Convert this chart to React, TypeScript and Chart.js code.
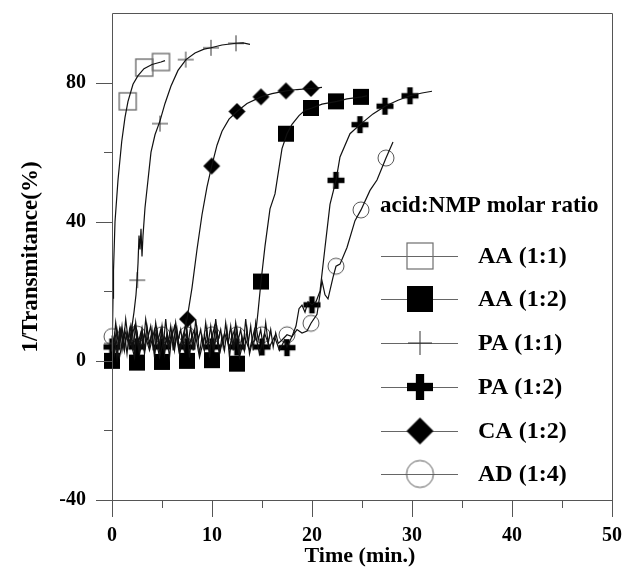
import { useEffect, useRef } from "react";
import { Chart, registerables } from "chart.js";

Chart.register(...registerables);

type P = [number, number];

// ---- data (time in min, 1/Transmitance %) ----
const AA11_LINE: P[] = [
  [0, 4], [0.05, 9], [0.1, 18], [0.15, 26], [0.3, 40], [0.6, 52], [0.97, 63], [1.3, 70],
  [1.6, 74.6], [2.1, 79.5], [2.6, 82], [3.2, 84], [4, 85.2], [4.9, 85.9], [5.3, 86.3],
];
const AA11_MARK: P[] = [[1.57, 74.6], [3.23, 84.3], [4.9, 85.9]];

const AA12_LINE: P[] = [
  [0, 2], [0.25, 7], [0.5, 1], [0.75, 9], [1, 3], [1.25, 8], [1.5, 2], [1.75, 9], [2, 4],
  [2.25, 1], [2.5, 8], [2.75, 3], [3, 9], [3.25, 2], [3.5, 7], [3.75, 4], [4, 9], [4.25, 1],
  [4.5, 8], [4.75, 3], [5, 9], [5.25, 2], [5.5, 7], [5.75, 1], [6, 8], [6.25, 4], [6.5, 9],
  [6.75, 2], [7, 7], [7.25, 3], [7.5, 9], [7.75, 1], [8, 8], [8.25, 4], [8.5, 9], [8.75, 2],
  [9, 7], [9.25, 3], [9.5, 9], [9.75, 1], [10, 8], [10.25, 4], [10.5, 9], [10.75, 2], [11, 7],
  [11.25, 3], [11.5, 9], [11.75, 1], [12, 8], [12.25, 4], [12.5, 9], [12.75, 2], [13, 7],
  [13.25, 3], [13.5, 9], [13.75, 2], [14, 5],
  [14.3, 6], [14.6, 14], [14.9, 22.8], [15.3, 33], [15.8, 43.7], [16.3, 48], [17, 61],
  [17.5, 65.3], [18, 68], [18.7, 70.5], [19.3, 72], [20, 72.7], [21, 73.8], [22.5, 74.6],
  [23.5, 75.3], [25, 75.9], [25.5, 76.2],
];
const AA12_MARK: P[] = [
  [0, 0], [2.5, -0.5], [5, -0.3], [7.5, 0], [10, 0.2], [12.5, -0.8], [14.9, 22.8],
  [17.4, 65.3], [19.9, 72.7], [22.4, 74.6], [24.9, 75.9],
];

const PA11_LINE: P[] = [
  [0, 4], [0.3, 8], [0.6, 3], [0.9, 9], [1.2, 4], [1.5, 8], [1.8, 5], [2.0, 10], [2.2, 14],
  [2.4, 19], [2.5, 23], [2.6, 28], [2.7, 36], [2.8, 32], [2.9, 38], [3.0, 30], [3.1, 36],
  [3.3, 44], [3.6, 52], [3.9, 60], [4.3, 65], [4.8, 69], [5.3, 74], [5.9, 79], [6.6, 83.5],
  [7.4, 86.6], [8.3, 88.5], [9.2, 89.6], [9.9, 90], [11, 90.8], [12.4, 91.3], [13.1, 91.4],
  [13.8, 91],
];
const PA11_MARK: P[] = [[0, 5], [2.53, 23.2], [4.8, 68.2], [7.37, 86.6], [9.9, 90], [12.4, 91.3]];

const PA12_LINE: P[] = [
  [0, 4], [0.25, 5], [0.75, 1], [1.25, 9], [1.75, 4], [2.25, 10], [2.75, 2], [3.25, 8],
  [3.75, 3], [4.25, 9], [4.75, 1], [5.25, 7], [5.75, 4], [6.25, 10], [6.75, 2], [7.25, 8],
  [7.75, 5], [8.25, 9], [8.75, 1], [9.25, 7], [9.75, 3], [10.25, 10], [10.75, 2], [11.25, 8],
  [11.75, 4], [12.25, 9], [12.75, 1], [13.25, 7], [13.75, 3], [14.25, 9], [14.75, 2],
  [15.25, 8], [15.75, 4], [16.25, 7], [16.75, 3], [17.25, 6], [17.5, 4], [18, 7], [18.4, 10],
  [18.7, 15], [19, 16], [19.3, 14], [19.6, 17], [20, 16.1], [20.4, 17], [20.8, 20],
  [21.3, 32.6], [21.8, 45], [22.4, 51.9], [22.8, 58.6], [23.8, 65.3], [24.8, 67.9],
  [26.1, 71], [27.3, 73.2], [28.6, 74.9], [29.8, 76.2], [31, 77], [32, 77.5],
];
const PA12_MARK: P[] = [
  [0, 4], [2.5, 4], [5, 4], [7.5, 4], [10, 4], [12.5, 4], [15, 4], [17.5, 3.8], [20, 16.1],
  [22.4, 51.9], [24.8, 67.9], [27.3, 73.2], [29.8, 76.2],
];

const CA12_LINE: P[] = [
  [0, 6], [0.25, 2], [0.5, 9], [0.75, 4], [1, 10], [1.25, 3], [1.5, 8], [1.75, 5], [2, 10],
  [2.25, 2], [2.5, 8], [2.75, 4], [3, 9], [3.25, 3], [3.5, 10], [3.75, 5], [4, 8], [4.25, 2],
  [4.5, 9], [4.75, 4], [5, 10], [5.25, 3], [5.5, 8], [5.75, 5], [6, 9], [6.25, 3], [6.5, 8],
  [6.75, 4], [7, 6], [7.5, 12], [8, 21], [8.5, 32], [9, 42],
  [9.5, 50], [9.97, 56], [10.5, 62], [11, 66], [11.7, 69.5], [12.5, 71.7], [13.5, 74],
  [14.9, 75.9], [16, 76.8], [17.4, 77.6], [18.5, 78], [19.9, 78.3], [21, 78.6],
];
const CA12_MARK: P[] = [[7.55, 12], [9.97, 56], [12.5, 71.7], [14.9, 75.9], [17.4, 77.6], [19.9, 78.3]];

const AD14_LINE: P[] = [
  [0, 7], [0.12, 3], [0.37, 11], [0.62, 5], [0.87, 9], [1.12, 4], [1.37, 12], [1.62, 6],
  [1.87, 10], [2.12, 3], [2.37, 11], [2.62, 5], [2.87, 8], [3.12, 4], [3.37, 12], [3.62, 7],
  [3.87, 10], [4.12, 3], [4.37, 11], [4.62, 6], [4.87, 9], [5.12, 4], [5.37, 12], [5.62, 5],
  [5.87, 10], [6.12, 3], [6.37, 11], [6.62, 6], [6.87, 9], [7.12, 4], [7.37, 11], [7.62, 5],
  [7.87, 10], [8.12, 3], [8.37, 12], [8.62, 6], [8.87, 9], [9.12, 4], [9.37, 11], [9.62, 5],
  [9.87, 10], [10.12, 3], [10.37, 12], [10.62, 6], [10.87, 9], [11.12, 4], [11.37, 11],
  [11.62, 5], [11.87, 10], [12.12, 3], [12.37, 11], [12.62, 6], [12.87, 9], [13.12, 4],
  [13.37, 12], [13.62, 5], [13.87, 10], [14.12, 3], [14.37, 11], [14.62, 6], [14.87, 9],
  [15.12, 4], [15.37, 11], [15.62, 5], [15.87, 9], [16.12, 4], [16.37, 8], [16.62, 5],
  [17, 6], [17.5, 7.5], [18, 7], [18.5, 9], [19, 8], [19.5, 8.6], [19.9, 10.8], [20.5, 13.4],
  [21, 23], [21.3, 19], [21.6, 17.8], [22.1, 24], [22.4, 27.2], [22.8, 27.8], [23.5, 32.6],
  [24.3, 40.3], [24.9, 43.4], [25.8, 49], [26.5, 52], [27.4, 58.3], [28.1, 62.9],
];
const AD14_MARK: P[] = [
  [0, 7], [2.5, 7.7], [5, 7.5], [7.5, 7.5], [10, 7.5], [12.5, 7.5], [15, 7.5], [17.5, 7.5],
  [19.9, 10.8], [22.4, 27.2], [24.9, 43.4], [27.4, 58.3],
];

const SERIES_LABELS = ["AA (1:1)", "AA (1:2)", "PA (1:1)", "PA (1:2)", "CA (1:2)", "AD (1:4)"];
const SERIES_MARKERS = ["openSquare", "square", "thinCross", "boldCross", "diamond", "openCircle"];
const LEGEND_TITLE = "acid:NMP molar ratio";
const X_TITLE = "Time (min.)";
const Y_TITLE = "1/Transmitance(%)";
const X_MAJOR = [0, 10, 20, 30, 40, 50];
const X_MINOR = [5, 15, 25, 35, 45];
const Y_MAJOR = [-40, 0, 40, 80];
const Y_MINOR = [-20, 20, 60];

const SERIF = "'Liberation Serif', 'Times New Roman', serif";

function makeMarker(kind: string, s: number, big: boolean): HTMLCanvasElement {
  const n = Math.ceil(s) + 4;
  const c = document.createElement("canvas");
  c.width = n;
  c.height = n;
  const g = c.getContext("2d")!;
  const m = n / 2;
  const h = s / 2;
  switch (kind) {
    case "openSquare":
      g.strokeStyle = "#6e6e6e";
      g.lineWidth = big ? 1.2 : 1.4;
      g.strokeRect(m - h, m - h, s, s);
      break;
    case "square":
      g.fillStyle = "#000";
      g.fillRect(m - h, m - h, s, s);
      break;
    case "thinCross":
      g.strokeStyle = "#333";
      g.lineWidth = 1;
      g.beginPath();
      g.moveTo(m - h, m);
      g.lineTo(m + h, m);
      g.moveTo(m, m - h);
      g.lineTo(m, m + h);
      g.stroke();
      break;
    case "boldCross": {
      const t = s * 0.32;
      g.fillStyle = "#000";
      g.fillRect(m - h, m - t / 2, s, t);
      g.fillRect(m - t / 2, m - h, t, s);
      break;
    }
    case "diamond":
      g.fillStyle = "#000";
      g.beginPath();
      g.moveTo(m, m - h);
      g.lineTo(m + h, m);
      g.lineTo(m, m + h);
      g.lineTo(m - h, m);
      g.closePath();
      g.fill();
      break;
    case "openCircle":
      g.strokeStyle = "#555";
      g.lineWidth = 1;
      g.beginPath();
      g.arc(m, m, h, 0, Math.PI * 2);
      g.stroke();
      break;
  }
  return c;
}

const DATA_SIZE: Record<string, number> = {
  openSquare: 17, square: 16, thinCross: 16, boldCross: 17, diamond: 17, openCircle: 16,
};
const LEGEND_SIZE: Record<string, number> = {
  openSquare: 26, square: 26, thinCross: 24, boldCross: 26, diamond: 27, openCircle: 27,
};

export default function App() {
  const ref = useRef<HTMLCanvasElement | null>(null);

  useEffect(() => {
    if (!ref.current) return;
    const lines = [AA11_LINE, AA12_LINE, PA11_LINE, PA12_LINE, CA12_LINE, AD14_LINE];
    const marks = [AA11_MARK, AA12_MARK, PA11_MARK, PA12_MARK, CA12_MARK, AD14_MARK];
    const dataImgs = SERIES_MARKERS.map((k) => makeMarker(k, DATA_SIZE[k], false));
    const legendImgs = SERIES_MARKERS.map((k) => makeMarker(k, LEGEND_SIZE[k], true));
    const toXY = (a: P[]) => a.map(([x, y]) => ({ x, y }));

    const datasets: any[] = [];
    lines.forEach((l, i) => {
      datasets.push({
        label: SERIES_LABELS[i] + " line",
        data: toXY(l),
        showLine: true,
        borderColor: "#111",
        borderWidth: 1.2,
        pointRadius: 0,
        pointHoverRadius: 0,
        tension: 0,
      });
    });
    marks.forEach((mk, i) => {
      datasets.push({
        label: SERIES_LABELS[i],
        data: toXY(mk),
        showLine: false,
        pointStyle: dataImgs[i],
        pointRadius: 8,
        clip: false,
      });
    });

    const decor = {
      id: "decor",
      afterDraw(chart: any) {
        const ctx = chart.ctx as CanvasRenderingContext2D;
        const { left, right, top, bottom } = chart.chartArea;
        const xs = chart.scales.x;
        const ys = chart.scales.y;
        ctx.save();
        // frame
        ctx.strokeStyle = "#555";
        ctx.lineWidth = 1;
        ctx.beginPath();
        ctx.moveTo(left + 0.5, top + 0.5);
        ctx.lineTo(right + 0.5, top + 0.5);
        ctx.lineTo(right + 0.5, bottom + 0.5);
        ctx.lineTo(left + 0.5, bottom + 0.5);
        ctx.closePath();
        ctx.stroke();
        // ticks
        ctx.beginPath();
        Y_MAJOR.forEach((v) => {
          const y = Math.round(ys.getPixelForValue(v)) + 0.5;
          ctx.moveTo(left - 16, y);
          ctx.lineTo(left, y);
        });
        Y_MINOR.forEach((v) => {
          const y = Math.round(ys.getPixelForValue(v)) + 0.5;
          ctx.moveTo(left - 8, y);
          ctx.lineTo(left, y);
        });
        X_MAJOR.forEach((v) => {
          const x = Math.round(xs.getPixelForValue(v)) + 0.5;
          ctx.moveTo(x, bottom);
          ctx.lineTo(x, bottom + 17);
        });
        X_MINOR.forEach((v) => {
          const x = Math.round(xs.getPixelForValue(v)) + 0.5;
          ctx.moveTo(x, bottom);
          ctx.lineTo(x, bottom + 8);
        });
        ctx.stroke();
        // axis titles
        ctx.fillStyle = "#000";
        ctx.font = `bold 22px ${SERIF}`;
        ctx.textAlign = "center";
        ctx.textBaseline = "alphabetic";
        ctx.fillText(X_TITLE, 360, 562);
        ctx.save();
        ctx.translate(37, 257);
        ctx.rotate(-Math.PI / 2);
        ctx.font = `bold 23px ${SERIF}`;
        ctx.fillText(Y_TITLE, 0, 0);
        ctx.restore();
        // legend
        ctx.textAlign = "left";
        ctx.textBaseline = "middle";
        ctx.font = `bold 23px ${SERIF}`;
        ctx.fillText(LEGEND_TITLE, 380, 206);
        const rows = [256, 299, 343, 387, 431, 474];
        ctx.font = `bold 24px ${SERIF}`;
        rows.forEach((ry, i) => {
          ctx.strokeStyle = "#666";
          ctx.lineWidth = 1;
          ctx.beginPath();
          ctx.moveTo(381, ry + 0.5);
          ctx.lineTo(458, ry + 0.5);
          ctx.stroke();
          const img = legendImgs[i];
          ctx.drawImage(img, 420 - img.width / 2, ry - img.height / 2);
          ctx.fillStyle = "#000";
          ctx.fillText(SERIES_LABELS[i], 478, ry + 1);
        });
        ctx.restore();
      },
    };

    const chart = new Chart(ref.current, {
      type: "scatter",
      data: { datasets },
      options: {
        animation: false,
        responsive: false,
        events: [],
        layout: { padding: { top: 13, right: 13, left: 0, bottom: 0 } },
        plugins: { legend: { display: false }, tooltip: { enabled: false } },
        scales: {
          x: {
            type: "linear",
            min: 0,
            max: 50,
            grid: { display: false, drawTicks: false },
            border: { display: false },
            afterBuildTicks: (s: any) => {
              s.ticks = X_MAJOR.map((v) => ({ value: v }));
            },
            afterFit: (s: any) => {
              s.height = 73;
              s.paddingLeft = 0;
              s.paddingRight = 0;
              s.paddingTop = 0;
              s.paddingBottom = 0;
            },
            ticks: {
              color: "#000",
              padding: 24,
              font: { family: SERIF, size: 20, weight: "bold" },
              maxRotation: 0,
            },
          },
          y: {
            type: "linear",
            min: -40,
            max: 100,
            grid: { display: false, drawTicks: false },
            border: { display: false },
            afterBuildTicks: (s: any) => {
              s.ticks = Y_MAJOR.map((v) => ({ value: v }));
            },
            afterFit: (s: any) => {
              s.width = 112;
              s.paddingLeft = 0;
              s.paddingRight = 0;
              s.paddingTop = 0;
              s.paddingBottom = 0;
            },
            ticks: {
              color: "#000",
              padding: 26,
              font: { family: SERIF, size: 20, weight: "bold" },
            },
          },
        },
      },
      plugins: [decor],
    } as any);
    return () => chart.destroy();
  }, []);

  return (
    <div style={{ position: "fixed", left: 0, top: 0, width: 625, height: 573, background: "#fff" }}>
      <canvas ref={ref} width={625} height={573} style={{ display: "block" }} />
    </div>
  );
}
